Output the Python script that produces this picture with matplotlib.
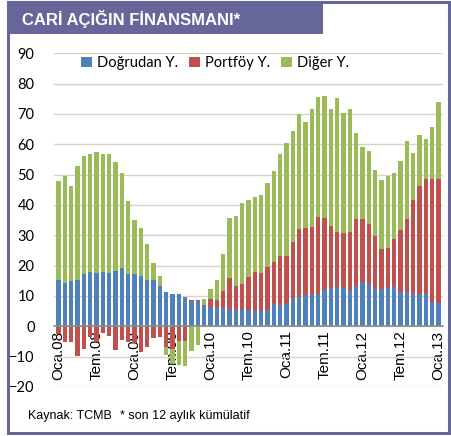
import numpy as np
import matplotlib
matplotlib.use("Agg")
import matplotlib.pyplot as plt
from matplotlib.patches import Rectangle

# monthly, Oca.08 .. Oca.13 (12-month cumulative, bn USD)
dogrudan = [15.4, 14.3, 15.1, 15.4, 17.1, 18.0, 17.6, 18.0, 17.6, 18.3, 19.3, 17.1,
            17.1, 16.6, 15.4, 15.4, 13.3, 11.3, 10.8, 10.5, 9.7, 8.2, 8.2, 6.7,
            6.3, 6.2, 6.0, 5.6, 5.3, 5.6, 5.5, 5.1, 5.1, 5.5, 7.3, 6.7,
            7.3, 9.5, 9.7, 10.2, 10.5, 10.8, 12.1, 12.7, 12.9, 12.7, 12.1, 13.4,
            14.6, 14.1, 12.2, 12.2, 12.7, 13.4, 11.4, 11.4, 10.5, 10.5, 10.8, 8.0,
            7.7]
portfoy = [-2.4, -5.2, -5.2, -9.7, -7.4, -3.5, -5.2, -2.2, -3.1, -7.7, -4.6, -5.2,
           -5.5, -8.5, -6.7, -3.8, -3.5, -6.8, -7.5, -4.8, -4.7, 0.4, 0.6, 0.4,
           2.6, 2.6, 5.7, 10.2, 8.1, 8.2, 10.8, 12.9, 12.5, 14.1, 14.0, 16.6,
           16.0, 18.2, 22.3, 22.3, 22.3, 25.3, 23.5, 20.3, 18.2, 17.9, 19.0, 21.9,
           20.7, 19.6, 17.7, 13.2, 13.0, 15.3, 20.3, 23.9, 31.1, 35.7, 37.8, 40.6,
           40.9]
diger = [32.5, 35.2, 31.1, 37.4, 39.0, 38.7, 39.8, 38.9, 39.1, 35.8, 31.1, 24.2,
         17.9, 15.9, 11.7, 5.5, 3.3, -2.5, -4.9, -8.0, -8.4, -8.1, -6.0, 2.0,
         3.3, 6.4, 12.1, 20.0, 23.0, 27.0, 25.3, 24.6, 25.6, 27.5, 29.9, 33.4,
         37.0, 36.8, 38.0, 34.9, 38.7, 39.5, 40.4, 38.5, 44.1, 39.8, 40.4, 28.3,
         23.7, 24.2, 21.6, 22.8, 23.8, 22.0, 22.8, 25.9, 15.4, 16.9, 13.0, 17.1,
         25.3]
series_names = ["Doğrudan Y.", "Portföy Y.", "Diğer Y."]
series_colors = ["#4F81BD", "#C0504D", "#9BBB59"]
tick_labels = ["Oca.08", "Tem.08", "Oca.09", "Tem.09", "Oca.10", "Tem.10",
               "Oca.11", "Tem.11", "Oca.12", "Tem.12", "Oca.13"]

W, H = 451, 436
PURPLE = "#67669A"

fig = plt.figure(figsize=(W / 100, H / 100), dpi=100)
fig.patch.set_facecolor("white")


def px_box(x0, y0, x1, y1):
    # pixel box (top-left origin) -> figure fraction [left, bottom, width, height]
    return [x0 / W, 1 - y1 / H, (x1 - x0) / W, (y1 - y0) / H]


ax = fig.add_axes(px_box(54, 53.3, 443, 387))

x = np.arange(len(dogrudan))
pos_bottom = np.zeros(len(x))
neg_bottom = np.zeros(len(x))
for vals, name, color in zip([dogrudan, portfoy, diger], series_names, series_colors):
    vals = np.array(vals)
    bottom = np.where(vals >= 0, pos_bottom, neg_bottom)
    ax.bar(x, vals, width=0.7, bottom=bottom, color=color, label=name, zorder=3)
    pos_bottom += np.clip(vals, 0, None)
    neg_bottom += np.clip(vals, None, 0)

ax.set_xlim(-0.72, len(x) - 1 + 0.72)
ax.set_ylim(-20, 90)
ax.set_yticks(np.arange(-20, 91, 10))
ax.grid(axis="y", color="#D9D4C1", linewidth=1.0, zorder=0)
ax.set_axisbelow(True)

for side in ["left", "right", "top"]:
    ax.spines[side].set_visible(False)
ax.spines["bottom"].set_position(("data", 0))
ax.spines["bottom"].set_color("#8C8C8C")
ax.spines["bottom"].set_linewidth(1.2)
ax.spines["bottom"].set_zorder(4)

ax.set_xticks(np.arange(0, len(x), 6))
ax.set_xticklabels(tick_labels, rotation=90, fontsize=11, family="Liberation Sans")
ax.tick_params(axis="x", length=0, pad=3)
ax.tick_params(axis="y", length=0, pad=14, labelsize=10.5)
for lab in ax.get_yticklabels():
    lab.set_family("Lato")

ax.legend(loc="center", bbox_to_anchor=(0.414, 0.971), ncol=3, frameon=False,
          handlelength=0.75, handleheight=0.75, handletextpad=0.3,
          columnspacing=0.8, prop={"family": "Lato", "size": 10.5})

# frame and title bar
fig.add_artist(Rectangle((8 / W, 1 - 433 / H), 441 / W, 431 / H, transform=fig.transFigure,
                         fill=False, edgecolor=PURPLE, linewidth=2.2))
fig.add_artist(Rectangle(px_box(7, 2, 323, 34)[:2], 316 / W, 32 / H, transform=fig.transFigure,
                         facecolor=PURPLE, edgecolor="none"))
fig.text(22 / W, 1 - 19 / H, "CARİ AÇIĞIN FİNANSMANI*", color="white", fontsize=12,
         fontweight="bold", family="Liberation Sans", va="center", ha="left")

fig.text(28 / W, 1 - 416 / H, "Kaynak: TCMB", fontsize=9, family="Liberation Sans",
         va="center", ha="left")
fig.text(120 / W, 1 - 416 / H, "* son 12 aylık kümülatif", fontsize=9,
         family="Liberation Sans", va="center", ha="left")

fig.savefig("out.png", dpi=100)
